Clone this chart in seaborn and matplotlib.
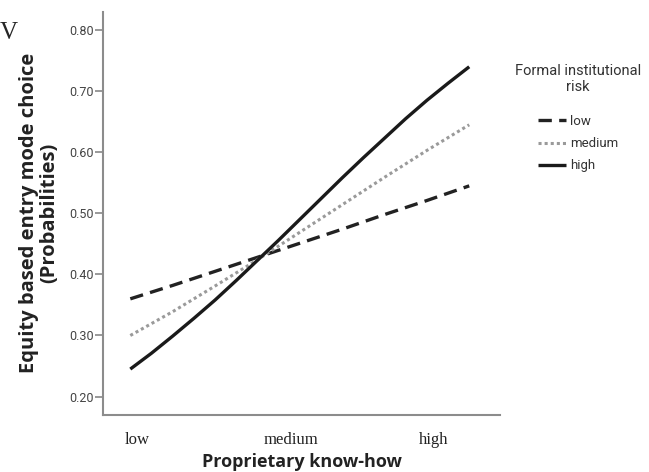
import numpy as np
import pandas as pd
import matplotlib
matplotlib.use("Agg")
import matplotlib.pyplot as plt
import seaborn as sns

# predicted probabilities (x: -1 = low know-how, 1 = high)
know_how = [-1.0, -0.75, -0.5, -0.25, 0.0, 0.25, 0.5, 0.75, 1.0]
prob_low = [0.360, 0.382, 0.405, 0.428, 0.451, 0.474, 0.498, 0.521, 0.545]
prob_medium = [0.300, 0.339, 0.381, 0.424, 0.469, 0.514, 0.559, 0.603, 0.645]
# the high-risk curve bends, so it was read at finer steps
know_how_fine = [-1.0, -0.875, -0.75, -0.625, -0.5, -0.375, -0.25, -0.125, 0.0,
                 0.125, 0.25, 0.375, 0.5, 0.625, 0.75, 0.875, 1.0]
prob_high = [0.245, 0.271, 0.299, 0.328, 0.358, 0.390, 0.423, 0.456, 0.490,
             0.524, 0.558, 0.591, 0.623, 0.655, 0.685, 0.713, 0.740]

risk_levels = ["low", "medium", "high"]
y_ticks = [0.20, 0.30, 0.40, 0.50, 0.60, 0.70, 0.80]
x_tick_pos = [-0.96, -0.05, 0.79]
x_tick_labels = ["low", "medium", "high"]

df = pd.concat([
    pd.DataFrame({"know_how": know_how, "prob": prob_low, "risk": "low"}),
    pd.DataFrame({"know_how": know_how, "prob": prob_medium, "risk": "medium"}),
    pd.DataFrame({"know_how": know_how_fine, "prob": prob_high, "risk": "high"}),
], ignore_index=True)

sns.set_style("white")
plt.rcParams['font.family'] = ['Roboto', 'DejaVu Sans']

fig = plt.figure(figsize=(6.49, 4.72), dpi=100)
ax = fig.add_axes([0.159, 0.121, 0.611, 0.854])

palette = {"low": "#222222", "medium": "#9a9a9a", "high": "#1a1a1a"}
dashes = {"low": (4, 2.2), "medium": (1, 1), "high": ""}
widths = {"low": 2.4, "medium": 2.2, "high": 2.4}

sns.lineplot(data=df, x="know_how", y="prob", hue="risk", style="risk",
             palette=palette, dashes=dashes, hue_order=risk_levels,
             style_order=risk_levels, ax=ax, legend=False)
for line, r in zip(ax.get_lines(), risk_levels):
    line.set_linewidth(widths[r])
    line.set_solid_capstyle("butt")
    line.set_dash_capstyle("butt")

ax.set_xlim(-1.16, 1.18)
ax.set_ylim(0.17, 0.83)
ax.set_yticks(y_ticks)
ax.set_yticklabels([f"{v:.2f}" for v in y_ticks], fontsize=9, color="#444444")
ax.set_xticks(x_tick_pos)
ax.set_xticklabels(x_tick_labels, fontsize=12, family="Liberation Serif", color="#222222")
ax.tick_params(axis="y", direction="out", length=6, width=1.2, color="#888888", left=True, pad=1)
ax.tick_params(axis="x", length=0, pad=12)

for side in ["top", "right"]:
    ax.spines[side].set_visible(False)
for side in ["left", "bottom"]:
    ax.spines[side].set_color("#8c8c8c")
    ax.spines[side].set_linewidth(1.5)

ax.set_xlabel("Proprietary know-how", fontsize=13, fontweight="bold",
              family="Open Sans", color="#222222", labelpad=4)
ax.set_ylabel("Equity based entry mode choice\n(Probabilities)", fontsize=14.5,
              fontweight="bold", family="Open Sans", color="#222222",
              labelpad=7, linespacing=1.0)

# legend title as its own text, entries below it
fig.text(578 / 649, 1 - 79 / 472, "Formal institutional\nrisk", ha="center", va="center",
         fontsize=10.5, color="#333333", linespacing=1.15)
handles = ax.get_lines()[:3]
leg = fig.legend(handles, risk_levels, loc="upper left",
                 bbox_to_anchor=(538 / 649, 1 - 115 / 472), frameon=False,
                 fontsize=9.5, handlelength=2.1, handletextpad=0.3,
                 labelspacing=0.7, borderaxespad=0, borderpad=0)
for t in leg.get_texts():
    t.set_color("#333333")

# stray letter at the top-left edge of the cropped figure
fig.text(0.0, 0.93, "V", fontsize=18, family="Liberation Serif", ha="left", va="center")

fig.savefig("out.png", dpi=100)
